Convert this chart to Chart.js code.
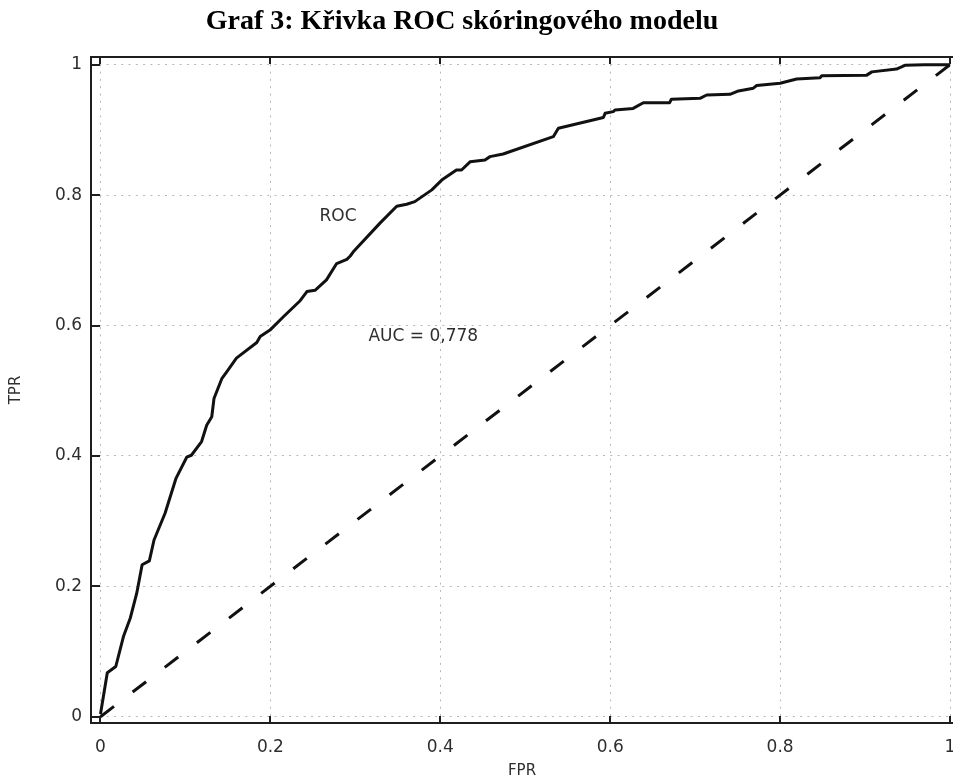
<!DOCTYPE html>
<html>
<head>
<meta charset="utf-8">
<script src="https://cdn.jsdelivr.net/npm/chart.js@4.4.1/dist/chart.umd.min.js"></script>
<style>
  html, body { margin: 0; padding: 0; background: #ffffff; }
  #wrap { width: 953px; height: 780px; }
</style>
</head>
<body>
<div id="wrap"><canvas id="c" width="953" height="780"></canvas></div>
<script>
// ---------------- data ----------------
const chartTitle = 'Graf 3: Křivka ROC skóringového modelu';
const xAxisTitle = 'FPR';
const yAxisTitle = 'TPR';
const tickValues = [0, 0.2, 0.4, 0.6, 0.8, 1];
const tickLabels = ['0', '0.2', '0.4', '0.6', '0.8', '1'];

const rocFpr = [0, 0.008, 0.018, 0.027, 0.035, 0.0426, 0.049, 0.0575, 0.063, 0.076,
  0.089, 0.1015, 0.107, 0.119, 0.125, 0.131, 0.1336, 0.143, 0.1486, 0.160,
  0.184, 0.188, 0.1995, 0.215, 0.235, 0.243, 0.2525, 0.266, 0.278, 0.290,
  0.294, 0.2976, 0.329, 0.3487, 0.3604, 0.370, 0.390, 0.4017, 0.419, 0.425,
  0.435, 0.4526, 0.4585, 0.474, 0.533, 0.539, 0.592, 0.594, 0.6036, 0.6056,
  0.627, 0.639, 0.670, 0.672, 0.7057, 0.7136, 0.741, 0.751, 0.7685, 0.7725,
  0.800, 0.8195, 0.847, 0.849, 0.902, 0.908, 0.937, 0.947, 0.97, 1.0];
const rocTpr = [0.004, 0.0675, 0.077, 0.123, 0.151, 0.189, 0.233, 0.239, 0.271, 0.312,
  0.366, 0.398, 0.401, 0.422, 0.447, 0.460, 0.488, 0.519, 0.529, 0.550,
  0.574, 0.583, 0.593, 0.613, 0.638, 0.652, 0.654, 0.670, 0.695, 0.7015,
  0.7066, 0.713, 0.757, 0.783, 0.786, 0.790, 0.808, 0.823, 0.8385, 0.8385,
  0.851, 0.854, 0.859, 0.863, 0.8896, 0.9025, 0.919, 0.9254, 0.928, 0.9305,
  0.933, 0.9417, 0.9417, 0.947, 0.9485, 0.9535, 0.9546, 0.9597, 0.964, 0.968,
  0.9715, 0.978, 0.980, 0.983, 0.984, 0.989, 0.9934, 0.999, 1.0, 1.0];

const diagFpr = [0, 1];
const diagTpr = [0, 1];

const annotationTexts = ['ROC', 'AUC = 0,778'];

// ---------------- presentation ----------------
const annotationAnchors = [{x: 0.2796, y: 0.7673}, {x: 0.380, y: 0.5833}];
const textFont = 'DejaVu Sans';
const textColor = '#2e2e2e';
const frameColor = '#1e1e1e';
const gridColor = '#b8b8b8';

const rocPoints = rocFpr.map((v, i) => ({x: v, y: rocTpr[i]}));
const diagPoints = diagFpr.map((v, i) => ({x: v, y: diagTpr[i]}));

const setTicks = (scale) => { scale.ticks = tickValues.map(v => ({value: v})); };

const framePlugin = {
  id: 'frameTicks',
  afterDatasetsDraw(chart) {
    const {ctx, chartArea: a, scales: {x, y}} = chart;
    ctx.save();
    ctx.strokeStyle = frameColor;
    ctx.lineWidth = 2;
    ctx.beginPath();
    ctx.moveTo(a.left - 1, a.top);
    ctx.lineTo(a.right, a.top);
    tickValues.forEach(v => {
      const px = Math.round(x.getPixelForValue(v));
      ctx.moveTo(px, a.bottom); ctx.lineTo(px, a.bottom - 7);
      ctx.moveTo(px, a.top); ctx.lineTo(px, a.top + 7);
      const py = Math.round(y.getPixelForValue(v));
      ctx.moveTo(a.left, py); ctx.lineTo(a.left + 9, py);
    });
    ctx.stroke();
    ctx.fillStyle = textColor;
    ctx.font = '17px "' + textFont + '"';
    ctx.textAlign = 'center';
    ctx.textBaseline = 'middle';
    annotationTexts.forEach((t, i) => {
      ctx.fillText(t, x.getPixelForValue(annotationAnchors[i].x), y.getPixelForValue(annotationAnchors[i].y));
    });
    ctx.restore();
  }
};

const titleShiftPlugin = {
  id: 'titleShift',
  afterLayout(chart) {
    if (chart.titleBlock) { chart.titleBlock.right -= 29; }
  }
};

new Chart(document.getElementById('c'), {
  type: 'line',
  data: {
    datasets: [
      {
        label: 'ROC',
        data: rocPoints,
        borderColor: '#111111',
        borderWidth: 3,
        pointRadius: 0,
        tension: 0,
        fill: false,
        borderJoinStyle: 'round'
      },
      {
        label: 'diagonal',
        data: diagPoints,
        borderColor: '#111111',
        borderWidth: 3,
        borderDash: [17, 23.5],
        pointRadius: 0,
        fill: false
      }
    ]
  },
  options: {
    responsive: false,
    animation: false,
    devicePixelRatio: 1,
    layout: { padding: {left: 0, right: 0, top: 0, bottom: 0} },
    plugins: {
      legend: { display: false },
      tooltip: { enabled: false },
      title: {
        display: true,
        text: chartTitle,
        color: '#000000',
        font: { family: 'Liberation Serif', size: 28, weight: 'bold', lineHeight: 1.2 },
        padding: { top: 5.2, bottom: 18.2 }
      }
    },
    scales: {
      x: {
        type: 'linear',
        min: -0.01118,
        max: 1.00353,
        afterBuildTicks: setTicks,
        afterFit(scale) { scale.height = 57; scale.paddingLeft = 0; scale.paddingRight = 0; },
        ticks: {
          color: textColor,
          font: { family: textFont, size: 17 },
          padding: 14,
          maxRotation: 0,
          autoSkip: false,
          callback: (v, i) => tickLabels[i]
        },
        grid: { color: gridColor, lineWidth: 1, drawTicks: false },
        border: { display: true, color: frameColor, width: 2, dash: [2, 5.3] },
        title: {
          display: true,
          text: xAxisTitle,
          color: textColor,
          font: { family: textFont, size: 15, lineHeight: 1 },
          padding: { top: 0, bottom: 1 }
        }
      },
      y: {
        type: 'linear',
        min: -0.00966,
        max: 1.01181,
        afterBuildTicks: setTicks,
        afterFit(scale) { scale.width = 91; scale.paddingTop = 0; scale.paddingBottom = 0; },
        ticks: {
          color: textColor,
          font: { family: textFont, size: 17 },
          padding: 9,
          autoSkip: false,
          callback: (v, i) => tickLabels[i]
        },
        grid: { color: gridColor, lineWidth: 1, drawTicks: false },
        border: { display: true, color: frameColor, width: 2, dash: [2, 5.3] },
        title: {
          display: true,
          text: yAxisTitle,
          color: textColor,
          font: { family: textFont, size: 15, lineHeight: 1 },
          padding: { top: 9, bottom: 0 }
        }
      }
    }
  },
  plugins: [framePlugin, titleShiftPlugin]
});
</script>
</body>
</html>
